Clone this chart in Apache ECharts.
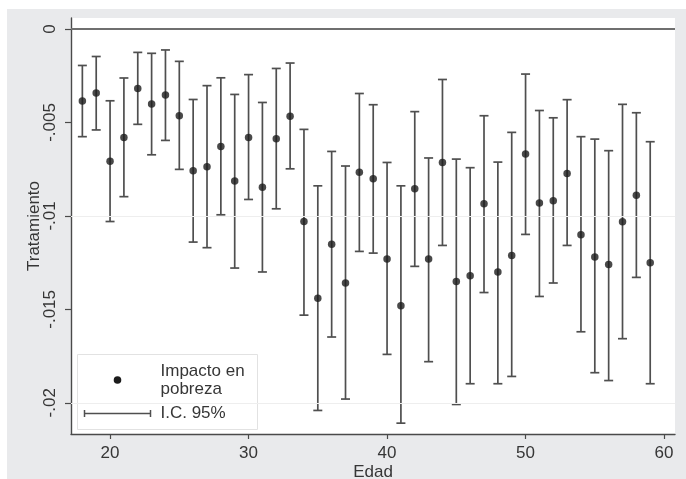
<!DOCTYPE html>
<html>
<head>
<meta charset="utf-8">
<script src="https://cdn.jsdelivr.net/npm/echarts@6/dist/echarts.min.js"></script>
<style>
  html, body { margin: 0; padding: 0; background: #ffffff; }
  #wrap { position: relative; width: 686px; height: 479px; overflow: hidden; background: #ffffff; }
  #bg { position: absolute; left: 7px; top: 9px; width: 679px; height: 470px; background: #e9eaec; }
  #chart { position: absolute; left: 0; top: 0; width: 686px; height: 479px; }
</style>
</head>
<body>
<div id="wrap"><div id="bg"></div><div id="chart"></div></div>
<script>
// Age (years)
const ages = [18,19,20,21,22,23,24,25,26,27,28,29,30,31,32,33,34,35,36,37,38,
              39,40,41,42,43,44,45,46,47,48,49,50,51,52,53,54,55,56,57,58,59];

// Point estimate of the treatment effect on poverty
const impacto = [-0.00385,-0.00342,-0.00708,-0.00580,-0.00318,-0.00401,-0.00353,-0.00464,
                 -0.00758,-0.00737,-0.00628,-0.00813,-0.00580,-0.00846,-0.00587,-0.00467,
                 -0.01030,-0.01440,-0.01151,-0.01359,-0.00767,-0.00801,-0.01231,-0.01481,
                 -0.00855,-0.01231,-0.00714,-0.01351,-0.01320,-0.00935,-0.01300,-0.01212,
                 -0.00669,-0.00931,-0.00919,-0.00773,-0.01101,-0.01220,-0.01260,-0.01031,
                 -0.00890,-0.01251];

// 95% confidence interval, lower bound
const icInf = [-0.00576,-0.00540,-0.01030,-0.00897,-0.00510,-0.00673,-0.00596,-0.00751,
               -0.01140,-0.01170,-0.00994,-0.01279,-0.00912,-0.01300,-0.00962,-0.00748,
               -0.01531,-0.02041,-0.01648,-0.01980,-0.01190,-0.01199,-0.01741,-0.02109,
               -0.01270,-0.01780,-0.01158,-0.02009,-0.01898,-0.01410,-0.01898,-0.01859,
               -0.01099,-0.01431,-0.01359,-0.01158,-0.01620,-0.01839,-0.01881,-0.01657,
               -0.01329,-0.01898];

// 95% confidence interval, upper bound
const icSup = [-0.00195,-0.00147,-0.00384,-0.00262,-0.00125,-0.00130,-0.00112,-0.00173,
               -0.00377,-0.00303,-0.00261,-0.00350,-0.00244,-0.00393,-0.00211,-0.00182,
               -0.00537,-0.00839,-0.00655,-0.00733,-0.00345,-0.00405,-0.00714,-0.00839,
               -0.00442,-0.00690,-0.00270,-0.00696,-0.00742,-0.00464,-0.00712,-0.00553,
               -0.00241,-0.00436,-0.00475,-0.00378,-0.00576,-0.00589,-0.00651,-0.00403,
               -0.00448,-0.00603];

const xTicks = [20, 30, 40, 50, 60];
const yTicks = [0, -0.005, -0.01, -0.015, -0.02];
const yTickLabels = ['0', '-.005', '-.01', '-.015', '-.02'];

const FONT = "'Liberation Sans', Arial, Helvetica, sans-serif";
const TXT = '#363636';

const pointData = ages.map((a, i) => [a, impacto[i]]);
const barData = ages.map((a, i) => [a, icInf[i], icSup[i]]);

function yLabel(v) {
  for (let i = 0; i < yTicks.length; i++) {
    if (Math.abs(v - yTicks[i]) < 1e-9) return yTickLabels[i];
  }
  return '';
}

const chart = echarts.init(document.getElementById('chart'), null, { renderer: 'canvas' });

const option = {
  backgroundColor: 'transparent',
  animation: false,
  textStyle: { fontFamily: FONT },
  grid: {
    left: 71, right: 11, top: 18, bottom: 45,
    outerBoundsMode: 'none',
    containLabel: false,
    show: true, backgroundColor: '#ffffff', borderWidth: 0
  },
  xAxis: {
    type: 'value',
    min: 17.18, max: 60.79,
    name: 'Edad',
    nameLocation: 'middle',
    nameGap: 30,
    nameMoveOverlap: false,
    nameTextStyle: { fontSize: 17, color: TXT, fontFamily: FONT },
    axisLine: { show: true, onZero: false, lineStyle: { color: '#4a4a4a', width: 1.4 } },
    axisTick: { show: true, length: 5, customValues: xTicks, lineStyle: { color: '#4a4a4a', width: 1.2 } },
    axisLabel: { customValues: xTicks, margin: 11, fontSize: 17, color: TXT, fontFamily: FONT },
    splitLine: { show: false }
  },
  yAxis: {
    type: 'value',
    min: -0.02167, max: 0.00059,
    name: 'Tratamiento',
    nameLocation: 'middle',
    nameGap: 28,
    nameRotate: 90,
    nameMoveOverlap: false,
    nameTextStyle: { fontSize: 17, color: TXT, fontFamily: FONT },
    axisLine: { show: true, onZero: false, lineStyle: { color: '#4a4a4a', width: 1.4 } },
    axisTick: { show: true, length: 6, customValues: yTicks, lineStyle: { color: '#4a4a4a', width: 1.2 } },
    axisLabel: {
      customValues: yTicks, rotate: 90, margin: 12,
      fontSize: 17, color: TXT, fontFamily: FONT,
      formatter: yLabel
    },
    splitLine: { show: false }
  },
  series: [
    {
      // horizontal reference lines at the y ticks
      type: 'line',
      data: [],
      silent: true,
      markLine: {
        silent: true,
        symbol: 'none',
        label: { show: false },
        data: yTicks.map(v => ({
          yAxis: v,
          lineStyle: v === 0
            ? { color: '#6f6f6f', width: 1.8, type: 'solid' }
            : { color: '#eeeeee', width: 1.2, type: 'solid' }
        }))
      }
    },
    {
      // 95% confidence intervals with end caps
      type: 'custom',
      data: barData,
      encode: { x: 0, y: [1, 2] },
      z: 3,
      renderItem: function (params, api) {
        const x = api.value(0);
        const lo = api.coord([x, api.value(1)]);
        const hi = api.coord([x, api.value(2)]);
        const hw = 4.5;
        const st = { stroke: '#4f4f4f', lineWidth: 1.7 };
        return {
          type: 'group',
          children: [
            { type: 'line', shape: { x1: lo[0], y1: lo[1], x2: hi[0], y2: hi[1] }, style: st },
            { type: 'line', shape: { x1: lo[0] - hw, y1: lo[1], x2: lo[0] + hw, y2: lo[1] }, style: st },
            { type: 'line', shape: { x1: hi[0] - hw, y1: hi[1], x2: hi[0] + hw, y2: hi[1] }, style: st }
          ]
        };
      }
    },
    {
      // point estimates
      type: 'scatter',
      data: pointData,
      symbol: 'circle',
      symbolSize: 7.5,
      z: 4,
      itemStyle: { color: '#1c1c1c', borderWidth: 0 }
    }
  ],
  graphic: [
    {
      type: 'group',
      left: 77, top: 354,
      z: 10,
      children: [
        { type: 'rect', shape: { x: 0, y: 0, width: 180, height: 75 },
          style: { fill: '#ffffff', stroke: '#e2e2e2', lineWidth: 1 } },
        { type: 'circle', shape: { cx: 40, cy: 25.5, r: 3.8 }, style: { fill: '#1c1c1c' } },
        { type: 'text', x: 83, y: 8,
          style: { text: 'Impacto en\npobreza', font: '17px ' + FONT, fill: TXT, lineHeight: 18,
                   verticalAlign: 'top', align: 'left' } },
        { type: 'line', shape: { x1: 7, y1: 59, x2: 73, y2: 59 }, style: { stroke: '#4f4f4f', lineWidth: 1.5 } },
        { type: 'line', shape: { x1: 7, y1: 55.5, x2: 7, y2: 62.5 }, style: { stroke: '#4f4f4f', lineWidth: 1.5 } },
        { type: 'line', shape: { x1: 73, y1: 55.5, x2: 73, y2: 62.5 }, style: { stroke: '#4f4f4f', lineWidth: 1.5 } },
        { type: 'text', x: 83, y: 59,
          style: { text: 'I.C. 95%', font: '17px ' + FONT, fill: TXT,
                   verticalAlign: 'middle', align: 'left' } }
      ]
    }
  ]
};

chart.setOption(option);
</script>
</body>
</html>
